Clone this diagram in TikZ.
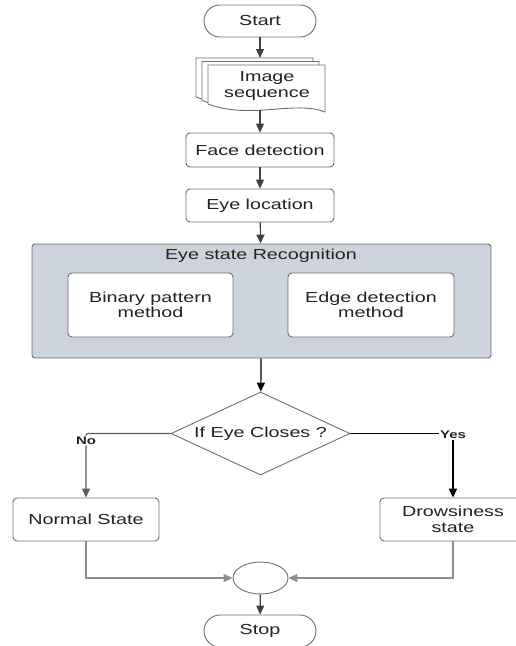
\documentclass[tikz,border=0pt]{standalone}
\usepackage{fontspec}
\setmainfont[FakeStretch=1.36]{Liberation Sans}
\usetikzlibrary{arrows.meta}
\usetikzlibrary{shapes.geometric, calc}
\definecolor{GroupFill}{HTML}{CDD3DC}
\definecolor{Edge}{HTML}{6B6F75}
\definecolor{Wire}{HTML}{3C4148}
\definecolor{SoftWire}{HTML}{8A8E94}
\definecolor{Ink}{HTML}{222222}

\tikzset{
    base/.style={draw=Edge, line width=0.9pt, text=Ink, align=center,
        font=\fontsize{14.5}{15.5}\selectfont},
    term/.style={base, rectangle, rounded corners=16pt,
        minimum width=112pt, minimum height=32pt},
    proc/.style={base, rectangle, rounded corners=4pt, fill=white},
    docpage/.style={draw=Edge, line width=0.9pt, fill=white},
    flow/.style={-{Triangle[width=8pt,length=9pt]}, draw=Wire, line width=1.2pt},
    tag/.style={font=\fontsize{11}{12}\bfseries, text=Ink, fill=white, inner sep=1pt}
}

\begin{document}
\begin{tikzpicture}[x=1pt, y=-1pt]
\useasboundingbox (0,0) rectangle (516,646);

\node[term] (start) at (260,21) {Start};

% stacked pages of the image sequence
\draw[docpage, shift={(-12,-7)}] (208,104) -- (208,65) -- (325,65) -- (325,112)
    .. controls (295,100) and (250,120) .. cycle;
\draw[docpage, shift={(-6,-3.5)}] (208,104) -- (208,65) -- (325,65) -- (325,112)
    .. controls (295,100) and (250,120) .. cycle;
\draw[docpage] (208,104) -- (208,65) -- (325,65) -- (325,112)
    .. controls (295,100) and (250,120) .. cycle;
\node[text=Ink, align=center, font=\fontsize{14.5}{15.5}\selectfont] (imgseq) at (267,86) {Image\\sequence};
\coordinate (seqtop) at (260,58);
\coordinate (seqbot) at (260,110);

\node[proc, minimum width=148pt, minimum height=34pt] (face) at (260,150) {Face detection};
\node[proc, minimum width=148pt, minimum height=33pt] (eyeloc) at (260,205.5) {Eye location};

% recognition group
\node[base, rectangle, rounded corners=3pt, fill=GroupFill,
    minimum width=459pt, minimum height=114pt] (ers) at (261.5,301) {};
\node[text=Ink, font=\fontsize{14.5}{15.5}\selectfont] (erstitle) at (261,256) {Eye state Recognition};
\node[proc, minimum width=165pt, minimum height=64pt] (binary) at (150.5,305) {Binary pattern\\method};
\node[proc, minimum width=166pt, minimum height=64pt] (edge) at (371,305) {Edge detection\\method};

\node[base, diamond, fill=white, aspect=2.16, inner sep=0pt,
    minimum width=179pt, minimum height=83pt] (dec) at (260.5,433.5) {If Eye Closes ?};

\node[proc, minimum width=146pt, minimum height=43pt] (normal) at (86,519.5) {Normal State};
\node[proc, minimum width=146pt, minimum height=43pt] (drowsy) at (453,519.5) {Drowsiness\\state};

\node[base, ellipse, minimum width=55pt, minimum height=32pt] (join) at (260.5,578) {};
\node[term] (stop) at (260,631) {Stop};

% connectors
\draw[flow] (start) -- (seqtop);
\draw[flow] (seqbot) -- (face);
\draw[flow] (face) -- (eyeloc);
\draw[flow] (eyeloc) -- (ers);
\draw[flow, draw=black] (ers) -- (dec);
\draw[flow, draw=Wire!85, rounded corners=2pt] (dec.west) -| (normal.north)
    node[tag, pos=0.5, yshift=-7pt] {No};
\draw[flow, draw=black, line width=1.6pt] (dec.east) -| (drowsy.north)
    node[tag, pos=0.5, yshift=-1.5pt] {Yes};
\draw[flow, draw=SoftWire] (normal.south) |- (join.west);
\draw[flow, draw=SoftWire] (drowsy.south) |- (join.east);
\draw[flow] (join) -- (stop);

\end{tikzpicture}
\end{document}
